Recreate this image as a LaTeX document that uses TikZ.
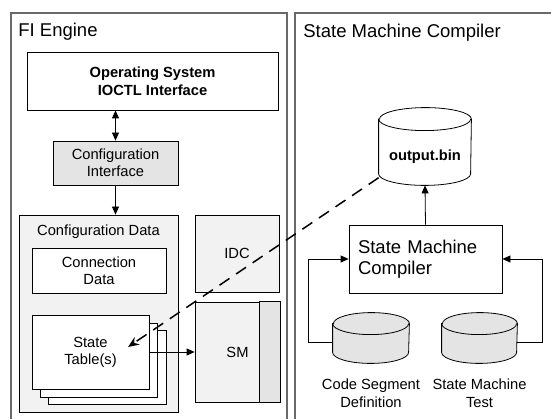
\documentclass[tikz,border=0pt]{standalone}
\usepackage{fontspec}
\setmainfont{Liberation Sans}
\usetikzlibrary{arrows.meta}
\definecolor{framegray}{RGB}{105,105,105}
\definecolor{lightfill}{RGB}{242,242,242}
\definecolor{midfill}{RGB}{228,228,228}
% drum outline round a named node: #1 name, #2 fill, #3 half width, #4 half height of the lid
\newcommand\drumshape[4]{%
  \draw[fill=#2] ([yshift=-#4]#1.north west) -- ([yshift=#4]#1.south west)
    arc[start angle=180,end angle=360,x radius=#3,y radius=#4]
    -- ([yshift=-#4]#1.north east)
    arc[start angle=0,end angle=180,x radius=#3,y radius=#4] -- cycle;
  \draw ([yshift=-#4]#1.north west)
    arc[start angle=180,end angle=360,x radius=#3,y radius=#4];}

\begin{document}
\begin{tikzpicture}
  [x=1pt,y=-1pt,line width=0.8pt,
   every node/.style={font=\fontsize{14.7}{17}\selectfont,inner sep=0pt},
   box/.style={draw,rectangle,align=center},
   title/.style={anchor=base west,font=\fontsize{18.5}{21}\selectfont},
   arr/.style={-{Triangle[length=8pt,width=7pt]}},
   dblarr/.style={{Triangle[length=8pt,width=7pt]}-{Triangle[length=8pt,width=7pt]}},
   frame/.style={draw=framegray,line width=1.2pt}]
  \useasboundingbox (0,0) rectangle (551,419);
  % frames
  \draw[frame] (11,419) -- (11,13) -- (287,13) -- (287,419);
  \draw[frame] (295,419) -- (295,13) -- (551,13);
  \node[title] (fititle) at (18,37) {FI Engine};
  \node[title] (smtitle) at (303,37.5) {State Machine Compiler};

  % FI engine
  \node[box,font=\fontsize{14.7}{18}\selectfont\bfseries,minimum width=251,minimum height=58] (os) at (152.5,81) {Operating System\\IOCTL Interface};
  \node[box,fill=midfill,minimum width=125,minimum height=44] (ci) at (115.5,163) {Configuration\\Interface};
  \node[box,fill=lightfill,minimum width=159,minimum height=197] (cd) at (98.5,313.5) {};
  \node (cdlabel) at (98.5,232) {Configuration Data};
  \node[box,fill=white,minimum width=134,minimum height=45] (conn) at (99,270.5) {Connection\\Data};
  \node[box,fill=white,minimum width=118,minimum height=74] (st3) at (107,367) {};
  \node[box,fill=white,minimum width=117,minimum height=74] (st2) at (98.5,360) {};
  \node[box,fill=white,minimum width=117,minimum height=74] (st) at (90.5,352) {State\\Table(s)};
  \node[box,fill=lightfill,minimum width=84,minimum height=77] (idc) at (237,253.5) {IDC};
  \node[box,fill=lightfill,minimum width=85,minimum height=100] (sm) at (237.5,352) {};
  \draw[fill=midfill] ([xshift=-21pt]sm.north east) rectangle (sm.south east);
  \node (smlabel) at (sm) {SM};

  \draw[dblarr] (ci.north |- os.south) -- (ci.north);
  \draw[arr] (ci.south) -- (ci.south |- cd.north);
  \draw[arr] (st.east) -- (sm.west);

  % compiler
  \node[minimum width=92,minimum height=77] (outbin) at (425,146.5) {};
  \drumshape{outbin}{white}{46pt}{11.5pt}
  \node[font=\fontsize{14.7}{17}\selectfont\bfseries] (outlabel) at (425,157) {output.bin};
  \node[box,font=\fontsize{18.5}{21}\selectfont,align=left,text width=135,inner xsep=9pt,minimum height=68] (smc) at (425.5,259) {State Machine\\Compiler};
  \node[minimum width=76,minimum height=50] (csd) at (371,338) {};
  \drumshape{csd}{midfill}{38pt}{11pt}
  \node[minimum width=75,minimum height=50] (smt) at (479.5,338) {};
  \drumshape{smt}{midfill}{37.5pt}{11pt}
  \node[align=center,font=\fontsize{14.7}{18}\selectfont] (csdlabel) at (371,393) {Code Segment\\Definition};
  \node[align=center,font=\fontsize{14.7}{18}\selectfont] (smtlabel) at (479.5,393) {State Machine\\Test};

  \draw[arr] (smc.north) -- (outbin.south);
  \draw[arr] ([yshift=-4pt]csd.west) -- ++(-24,0) |- (smc.west);
  \draw[arr] ([yshift=-4pt]smt.east) -- ++(25,0) |- (smc.east);

  \coordinate (sttip) at (128,347);
  \draw[line width=1.5pt,dash pattern=on 12pt off 8pt,-{Stealth[length=11pt,width=9pt]}] (outbin) -- (sttip);
\end{tikzpicture}
\end{document}
